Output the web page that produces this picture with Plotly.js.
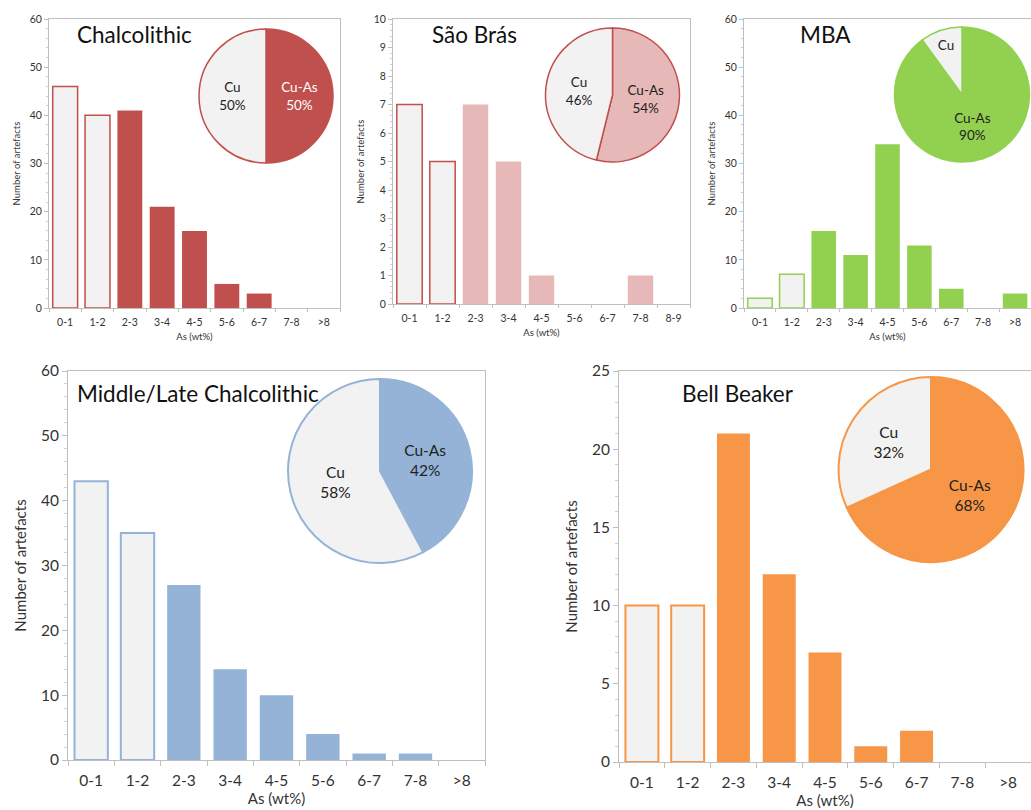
<!DOCTYPE html>
<html>
<head>
<meta charset="utf-8">
<script src="https://cdn.plot.ly/plotly-3.0.1.min.js"></script>
<style>html,body{margin:0;padding:0;background:#fff;}#chart{width:1031px;height:810px;}</style>
</head>
<body>
<div id="chart"></div>
<script>
// ---- data ----
const binsA = ["0-1","1-2","2-3","3-4","4-5","5-6","6-7","7-8",">8"];
const binsSaoBras = ["0-1","1-2","2-3","3-4","4-5","5-6","6-7","7-8","8-9"];
const chalcolithic = [46,40,41,21,16,5,3,0,0];
const saoBras = [7,5,7,5,1,0,0,1,0];
const mba = [2,7,16,11,34,13,4,0,3];
const middleLate = [43,35,27,14,10,4,1,1,0];
const bellBeaker = [10,10,21,12,7,1,2,0,0];
const cuBinCount = 2; // first two bins (<2 wt% As) = Cu
const pieLabels = ["Cu-As","Cu"];
const panelTitles = ["Chalcolithic","São Brás","MBA","Middle/Late Chalcolithic","Bell Beaker"];
const xTitle = "As (wt%)";
const yTitle = "Number of artefacts";

// ---- layout helpers ----
const W = 1031, H = 810;
const px = x => x / W;
const py = y => 1 - y / H;
const FONT = "Lato, 'Open Sans', sans-serif";
const GRAY = "#F2F2F2";
const AX = "#BFBFBF";

const panels = [
  {cats: binsA, vals: chalcolithic, color: "#C0504D", edge: "#C0504D", xd:[49,340], yd:[19,308], yr:[0,60], dt:10, minor:2,
   pie:{x:[199,333], y:[29,163]}, title:{x:75,y:35,size:22.5}, small:true, cuAsText:"#FFFFFF"},
  {cats: binsSaoBras, vals: saoBras, color: "#E6B9B8", edge: "#C0504D", xd:[393,690], yd:[19,304], yr:[0,10], dt:1, minor:0.2,
   pie:{x:[544,681], y:[28,162]}, title:{x:430,y:35,size:22.5}, small:true, cuAsText:"#222"},
  {cats: binsA, vals: mba, color: "#92D050", edge: "#92D050", xd:[744,1031], yd:[19,308], yr:[0,60], dt:10, minor:2,
   pie:{x:[894,1030], y:[27,162]}, title:{x:798,y:35,size:22.5}, small:true, cuAsText:"#222", cuNoPct:true},
  {cats: binsA, vals: middleLate, color: "#95B3D7", edge: "#95B3D7", xd:[68,485], yd:[371,760], yr:[0,60], dt:10, minor:2,
   pie:{x:[287,473], y:[379,563]}, title:{x:75,y:393,size:22.5}, small:false, cuAsText:"#222"},
  {cats: binsA, vals: bellBeaker, color: "#F79646", edge: "#F79646", xd:[619,1031], yd:[371,762], yr:[0,25], dt:5, minor:1,
   pie:{x:[838,1024], y:[377,562]}, title:{x:680,y:393,size:22.5}, small:false, cuAsText:"#222"}
];

const data = [];
const layout = {
  width: W, height: H,
  margin: {l:0, r:0, t:0, b:0},
  paper_bgcolor: "#fff", plot_bgcolor: "#fff",
  showlegend: false,
  font: {family: FONT, color: "#222"},
  annotations: []
};

panels.forEach((p, i) => {
  const n = i + 1;
  const xa = "x" + (n === 1 ? "" : n), ya = "y" + (n === 1 ? "" : n);
  const xk = "xaxis" + (n === 1 ? "" : n), yk = "yaxis" + (n === 1 ? "" : n);
  const tickSize = p.small ? 10.5 : 15.5;
  const titleSize = p.small ? 9.5 : 15;

  const fills = p.vals.map((v, j) => j < cuBinCount ? GRAY : p.color);
  const lines = p.vals.map((v, j) => j < cuBinCount ? p.edge : p.color);
  const lw = p.vals.map((v, j) => j < cuBinCount ? (p.small ? 1.5 : 2) : 0);

  data.push({
    type: "bar", x: p.cats, y: p.vals, xaxis: xa, yaxis: ya,
    width: p.small ? 0.77 : 0.72,
    marker: {color: fills, line: {color: lines, width: lw}},
    hoverinfo: "x+y"
  });

  layout[xk] = {
    domain: [px(p.xd[0]), px(p.xd[1])],
    anchor: ya, type: "category",
    range: [-0.5, p.cats.length - 0.5],
    showline: true, mirror: true, linecolor: AX, linewidth: 1,
    ticks: "outside", tickson: "boundaries", ticklen: p.small ? 3 : 5, tickcolor: AX,
    ticklabelstandoff: p.small ? 4 : 6,
    tickfont: {size: tickSize, color: "#333", family: FONT},
    showgrid: false, zeroline: false, fixedrange: true,
    title: {text: xTitle, font: {size: titleSize, color: "#333", family: FONT}, standoff: p.small ? 6 : 3}
  };
  layout[yk] = {
    domain: [py(p.yd[1]), py(p.yd[0])],
    anchor: xa, range: p.yr, dtick: p.dt, tick0: 0,
    showline: true, mirror: true, linecolor: AX, linewidth: 1,
    ticks: "outside", ticklen: p.small ? 4 : 5, tickcolor: AX,
    minor: {dtick: p.minor, ticks: "outside", ticklen: p.small ? 2.5 : 3, tickcolor: "#D0D0D0", showgrid: false},
    tickfont: {size: tickSize, color: "#333", family: FONT},
    showgrid: false, zeroline: false, fixedrange: true,
    title: {text: yTitle, font: {size: titleSize, color: "#333", family: FONT}, standoff: p.small ? 7 : 10}
  };

  const cuCount = p.vals.slice(0, cuBinCount).reduce((a, b) => a + b, 0);
  const cuAsCount = p.vals.slice(cuBinCount).reduce((a, b) => a + b, 0);
  data.push({
    type: "pie", labels: pieLabels, values: [cuAsCount, cuCount],
    sort: false, direction: "clockwise", rotation: 0,
    domain: {x: [px(p.pie.x[0]), px(p.pie.x[1])], y: [py(p.pie.y[1]), py(p.pie.y[0])]},
    marker: {colors: [p.color, GRAY], line: {color: p.edge, width: p.small ? 1.5 : 2}},
    textposition: "inside", insidetextorientation: "horizontal",
    texttemplate: ["%{label}<br>%{percent:.0%}", p.cuNoPct ? "%{label}" : "%{label}<br>%{percent:.0%}"],
    textfont: {family: FONT, size: p.small ? 13.5 : 15.5, color: [p.cuAsText, "#222"]},
    hoverinfo: "label+percent"
  });

  layout.annotations.push({
    xref: "paper", yref: "paper", x: px(p.title.x), y: py(p.title.y),
    xanchor: "left", yanchor: "middle", showarrow: false,
    text: panelTitles[i], font: {family: FONT, size: p.title.size, color: "#111"}
  });
});

Plotly.newPlot("chart", data, layout, {displayModeBar: false, staticPlot: true});
</script>
</body>
</html>
